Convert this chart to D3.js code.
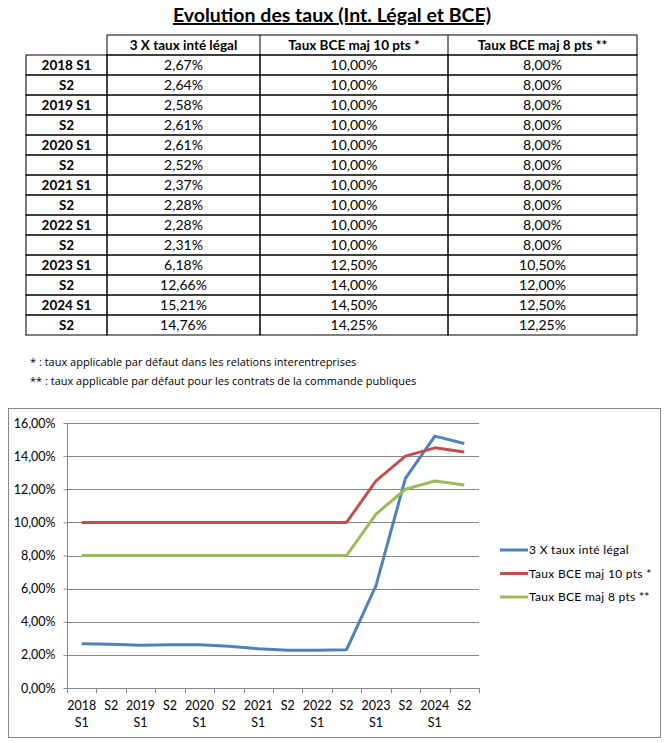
<!DOCTYPE html>
<html>
<head>
<meta charset="utf-8">
<script src="https://cdn.jsdelivr.net/npm/d3@7"></script>
<style>
  body { margin: 0; background: #fff; }
  svg { display: block; }
  text { fill: #000; }
</style>
</head>
<body>
<svg id="page" width="670" height="743"></svg>
<script>
const periods = ["2018 S1", "S2", "2019 S1", "S2", "2020 S1", "S2", "2021 S1", "S2",
                 "2022 S1", "S2", "2023 S1", "S2", "2024 S1", "S2"];
const seriesNames = ["3 X taux inté légal", "Taux BCE maj 10 pts *", "Taux BCE maj 8 pts **"];
const legalX3 = [2.67, 2.64, 2.58, 2.61, 2.61, 2.52, 2.37, 2.28, 2.28, 2.31, 6.18, 12.66, 15.21, 14.76];
const bce10 = [10, 10, 10, 10, 10, 10, 10, 10, 10, 10, 12.5, 14, 14.5, 14.25];
const bce8 = [8, 8, 8, 8, 8, 8, 8, 8, 8, 8, 10.5, 12, 12.5, 12.25];
const yTicks = [0, 2, 4, 6, 8, 10, 12, 14, 16];
const colors = ["#4f81bd", "#c0504d", "#9bbb59"];
const notes = ["* : taux applicable par défaut dans les relations interentreprises",
               "** : taux applicable par défaut pour les contrats de la commande publiques"];

const svg = d3.select("#page");
const pct = v => d3.format(".2f")(v).replace(".", ",") + "%";

// title
svg.append("text")
    .attr("x", 332).attr("y", 22)
    .attr("text-anchor", "middle")
    .style("font-family", "Lato, Carlito, sans-serif")
    .style("font-weight", "bold")
    .style("font-size", "19.5px")
    .style("text-decoration", "underline")
    .text("Evolution des taux (Int. Légal et BCE)");

// ---- table ----
const colEdges = [26, 107, 260, 448, 637];
const rowTop = 35, rowH = 20;
const series = [legalX3, bce10, bce8];
const table = svg.append("g").attr("class", "table")
    .style("font-family", "Lato, Carlito, sans-serif")
    .style("font-size", "14px");

// header
table.append("rect")
    .attr("x", colEdges[1]).attr("y", rowTop)
    .attr("width", colEdges[4] - colEdges[1]).attr("height", rowH)
    .attr("fill", "none").attr("stroke", "#000");
seriesNames.forEach(function (name, j) {
    table.append("text")
        .attr("x", (colEdges[j + 1] + colEdges[j + 2]) / 2)
        .attr("y", rowTop + rowH / 2 + 5)
        .attr("text-anchor", "middle")
        .style("font-weight", "bold")
        .style("font-size", "13.5px")
        .text(name);
    if (j > 0) {
        table.append("line")
            .attr("x1", colEdges[j + 1]).attr("x2", colEdges[j + 1])
            .attr("y1", rowTop).attr("y2", rowTop + rowH)
            .attr("stroke", "#000");
    }
});

let rows = table.selectAll(".row")
    .data(periods)
    .enter()
    .append("g")
    .attr("class", "row")
    .attr("transform", function (d, i) {
        return "translate(0," + (rowTop + rowH * (i + 1)) + ")";
    });

rows.each(function (d, i) {
    let g = d3.select(this);
    for (let c = 0; c < 4; c++) {
        g.append("rect")
            .attr("x", colEdges[c]).attr("y", 0)
            .attr("width", colEdges[c + 1] - colEdges[c]).attr("height", rowH)
            .attr("fill", "none").attr("stroke", "#000");
        g.append("text")
            .attr("x", (colEdges[c] + colEdges[c + 1]) / 2)
            .attr("y", rowH / 2 + 5)
            .attr("text-anchor", "middle")
            .style("font-weight", c === 0 ? "bold" : "normal")
            .style("font-size", c === 0 ? "13.5px" : "14px")
            .text(c === 0 ? d : pct(series[c - 1][i]));
    }
});

// footnotes
svg.selectAll(".note")
    .data(notes)
    .enter()
    .append("text")
    .attr("class", "note")
    .attr("x", 30)
    .attr("y", function (d, i) { return 366 + i * 19; })
    .style("font-family", "'Open Sans', sans-serif")
    .style("font-size", "11px")
    .text(d => d);

// ---- chart ----
svg.append("rect")
    .attr("x", 8.5).attr("y", 408.5)
    .attr("width", 652).attr("height", 329)
    .attr("fill", "#fff").attr("stroke", "#868686");

const x = d3.scaleBand().domain(d3.range(periods.length)).range([67, 479]);
const y = d3.scaleLinear().domain([0, 16]).range([688, 423]);
const chart = svg.append("g")
    .style("font-family", "Lato, Carlito, sans-serif")
    .style("font-size", "12px");

// gridlines
chart.selectAll(".grid")
    .data(yTicks.filter(v => v > 0))
    .enter()
    .append("line")
    .attr("x1", 67).attr("x2", 479)
    .attr("y1", d => Math.round(y(d)) + 0.5).attr("y2", d => Math.round(y(d)) + 0.5)
    .attr("stroke", "#868686");

// y axis
let yAxis = chart.append("g")
    .attr("transform", "translate(67.5,0)")
    .call(d3.axisLeft(y).tickValues(yTicks).tickFormat(pct).tickSize(4).tickPadding(8).offset(0.5));
yAxis.select(".domain").attr("stroke", "#868686").attr("d", "M0," + y(16) + "V" + (y(0) + 0.5));
yAxis.selectAll(".tick line").attr("stroke", "#868686");
yAxis.selectAll(".tick text").style("font-size", "12.5px").style("font-family", "Lato, Carlito, sans-serif");

// x axis baseline and ticks
chart.append("line")
    .attr("x1", 67).attr("x2", 479)
    .attr("y1", y(0) + 0.5).attr("y2", y(0) + 0.5)
    .attr("stroke", "#868686");
chart.selectAll(".xtick")
    .data(d3.range(periods.length + 1))
    .enter()
    .append("line")
    .attr("x1", d => Math.round(67 + d * x.step()) + 0.5)
    .attr("x2", d => Math.round(67 + d * x.step()) + 0.5)
    .attr("y1", y(0)).attr("y2", y(0) + 5)
    .attr("stroke", "#868686");

let xLabels = chart.selectAll(".xlabel")
    .data(periods)
    .enter()
    .append("text")
    .attr("class", "xlabel")
    .attr("text-anchor", "middle")
    .style("font-size", "12.5px")
    .attr("transform", (d, i) => "translate(" + (x(i) + x.bandwidth() / 2) + ",710)");
xLabels.each(function (d) {
    let parts = d.split(" ");
    let t = d3.select(this);
    parts.forEach(function (p, k) {
        t.append("tspan").attr("x", 0).attr("dy", k === 0 ? 0 : 17).text(p);
    });
});

// lines
const line = d3.line()
    .x((d, i) => x(i) + x.bandwidth() / 2)
    .y(d => y(d));
series.forEach(function (s, j) {
    chart.append("path")
        .datum(s)
        .attr("d", line)
        .attr("fill", "none")
        .attr("stroke", colors[j])
        .attr("stroke-width", 3)
        .attr("stroke-linejoin", "round");
});

// legend
let legend = chart.selectAll(".legend")
    .data(seriesNames)
    .enter()
    .append("g")
    .attr("class", "legend")
    .attr("transform", (d, i) => "translate(500," + (550 + i * 23.5) + ")");
legend.append("line")
    .attr("x1", 0).attr("x2", 28)
    .attr("stroke", (d, i) => colors[i])
    .attr("stroke-width", 3);
legend.append("text")
    .attr("x", 29).attr("y", 4)
    .style("letter-spacing", "0.3px")
    .text(d => d);
</script>
</body>
</html>
